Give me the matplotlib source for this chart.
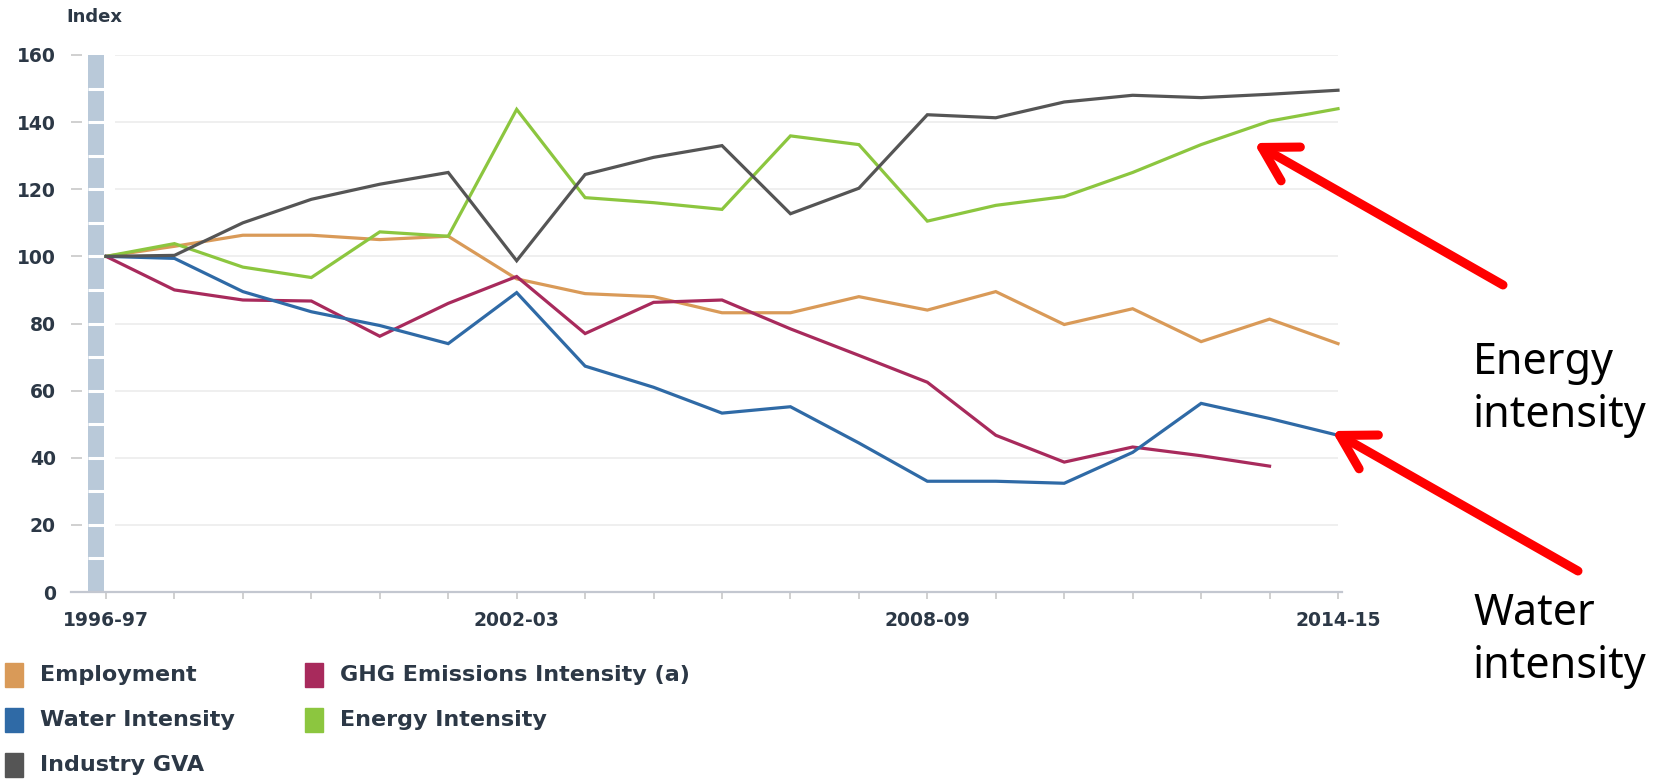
import matplotlib
matplotlib.use("Agg")
import matplotlib.pyplot as plt
from matplotlib.patches import Rectangle, FancyArrowPatch

W, H = 1668, 780

years = ["1996-97", "1997-98", "1998-99", "1999-00", "2000-01", "2001-02",
         "2002-03", "2003-04", "2004-05", "2005-06", "2006-07", "2007-08",
         "2008-09", "2009-10", "2010-11", "2011-12", "2012-13", "2013-14",
         "2014-15"]
label_years = ["1996-97", "2002-03", "2008-09", "2014-15"]

employment = [100, 103, 106.3, 106.3, 105, 106, 93.3, 88.9, 88, 83.2, 83.2,
              88, 84, 89.5, 79.7, 84.4, 74.6, 81.3, 74]
ghg_intensity = [100, 90, 87, 86.7, 76.2, 86, 94, 77, 86.3, 87, 78.4, 70.5,
                 62.5, 46.7, 38.7, 43.2, 40.6, 37.5]
water_intensity = [100, 99.4, 89.5, 83.5, 79.4, 74, 89.2, 67.3, 61, 53.3, 55.2,
                   44.4, 33, 33, 32.4, 41.6, 56.2, 51.7, 46.7]
energy_intensity = [100, 103.8, 96.8, 93.7, 107.3, 106, 143.8, 117.5, 116, 114,
                    135.9, 133.3, 110.5, 115.2, 117.8, 125, 133.3, 140.3, 144]
industry_gva = [100, 100.3, 110, 117, 121.5, 125, 98.7, 124.4, 129.5, 133,
                112.7, 120.3, 142.2, 141.3, 146, 148, 147.3, 148.3, 149.5]

series = [
    ("Employment", employment, "#d99a58"),
    ("GHG Emissions Intensity (a)", ghg_intensity, "#a82a5c"),
    ("Water Intensity", water_intensity, "#2f6aa6"),
    ("Energy Intensity", energy_intensity, "#8cc63f"),
    ("Industry GVA", industry_gva, "#555555"),
]

TEXT = "#2c3846"


def px(x, y):
    """Pixel position (from top-left) to figure fraction."""
    return x / W, 1 - y / H


fig = plt.figure(figsize=(W / 100, H / 100), dpi=100)
fig.patch.set_facecolor("white")

step = (1338 - 106) / 18.0
ax = fig.add_axes([71 / W, 1 - 592 / H, (1342 - 71) / W, (592 - 55) / H])
ax.set_xlim(-(106 - 71) / step, 18 + 4 / step)
ax.set_ylim(0, 160)

# grey-blue axis band with white breaks every 10 units
ax.axvspan((88 - 106) / step, (104 - 106) / step, color="#b9c9d9", lw=0, zorder=1)
ax.hlines(range(10, 160, 10), (88 - 106) / step, (104 - 106) / step,
          color="white", lw=2.2, zorder=2)

yticks = list(range(0, 161, 20))
ax.hlines(yticks[1:], (115 - 106) / step, 18, color="#ececec", lw=1.2, zorder=0)

for name, vals, color in series:
    ax.plot(range(len(vals)), vals, color=color, lw=2.3, zorder=3,
            solid_joinstyle="miter")

for side in ("top", "right", "left"):
    ax.spines[side].set_visible(False)
ax.spines["bottom"].set_color("#c3c7d0")
ax.spines["bottom"].set_linewidth(1.6)

ax.set_yticks(yticks)
ax.set_yticklabels([str(v) for v in yticks], fontweight="bold")
ax.tick_params(axis="y", direction="in", length=8, width=1.2, color="#c8c8c8",
               pad=11, labelsize=13.5, labelcolor=TEXT)

ax.set_xticks(range(len(years)))
ax.set_xticklabels([y if y in label_years else "" for y in years],
                   fontweight="bold")
ax.tick_params(axis="x", direction="out", length=5, width=1.2, color="#c8c8c8",
               pad=9, labelsize=13.5, labelcolor=TEXT)

fig.text(*px(66, 17), "Index", fontsize=13, fontweight="bold", color=TEXT,
         va="center", ha="left")

# legend, two columns
legend_pos = {
    "Employment": (5, 675),
    "Water Intensity": (5, 720),
    "Industry GVA": (5, 765),
    "GHG Emissions Intensity (a)": (305, 675),
    "Energy Intensity": (305, 720),
}
for name, vals, color in series:
    x, y = legend_pos[name]
    fig.add_artist(Rectangle(px(x, y + 12), 18 / W, 24 / H, color=color,
                             transform=fig.transFigure))
    fig.text(*px(x + 35, y), name, fontsize=16, fontweight="bold", color=TEXT,
             va="center", ha="left")

# red call-out arrows and labels
for tail, head in [((1503, 285), (1254, 143)), ((1578, 571), (1332, 431))]:
    fig.add_artist(FancyArrowPatch(px(*tail), px(*head), transform=fig.transFigure,
                                   arrowstyle="->,head_length=0.6,head_width=0.35",
                                   mutation_scale=40, color="#ff0000", lw=6.5,
                                   shrinkA=0, shrinkB=0,
                                   capstyle="round", joinstyle="round"))

callouts = [("Energy", 374), ("intensity", 427), ("Water", 625), ("intensity", 678)]
for word, baseline in callouts:
    fig.text(*px(1473, baseline), word, fontsize=31, family="Noto Sans",
             color="black", va="baseline", ha="left")

fig.savefig("out.png", dpi=100)
